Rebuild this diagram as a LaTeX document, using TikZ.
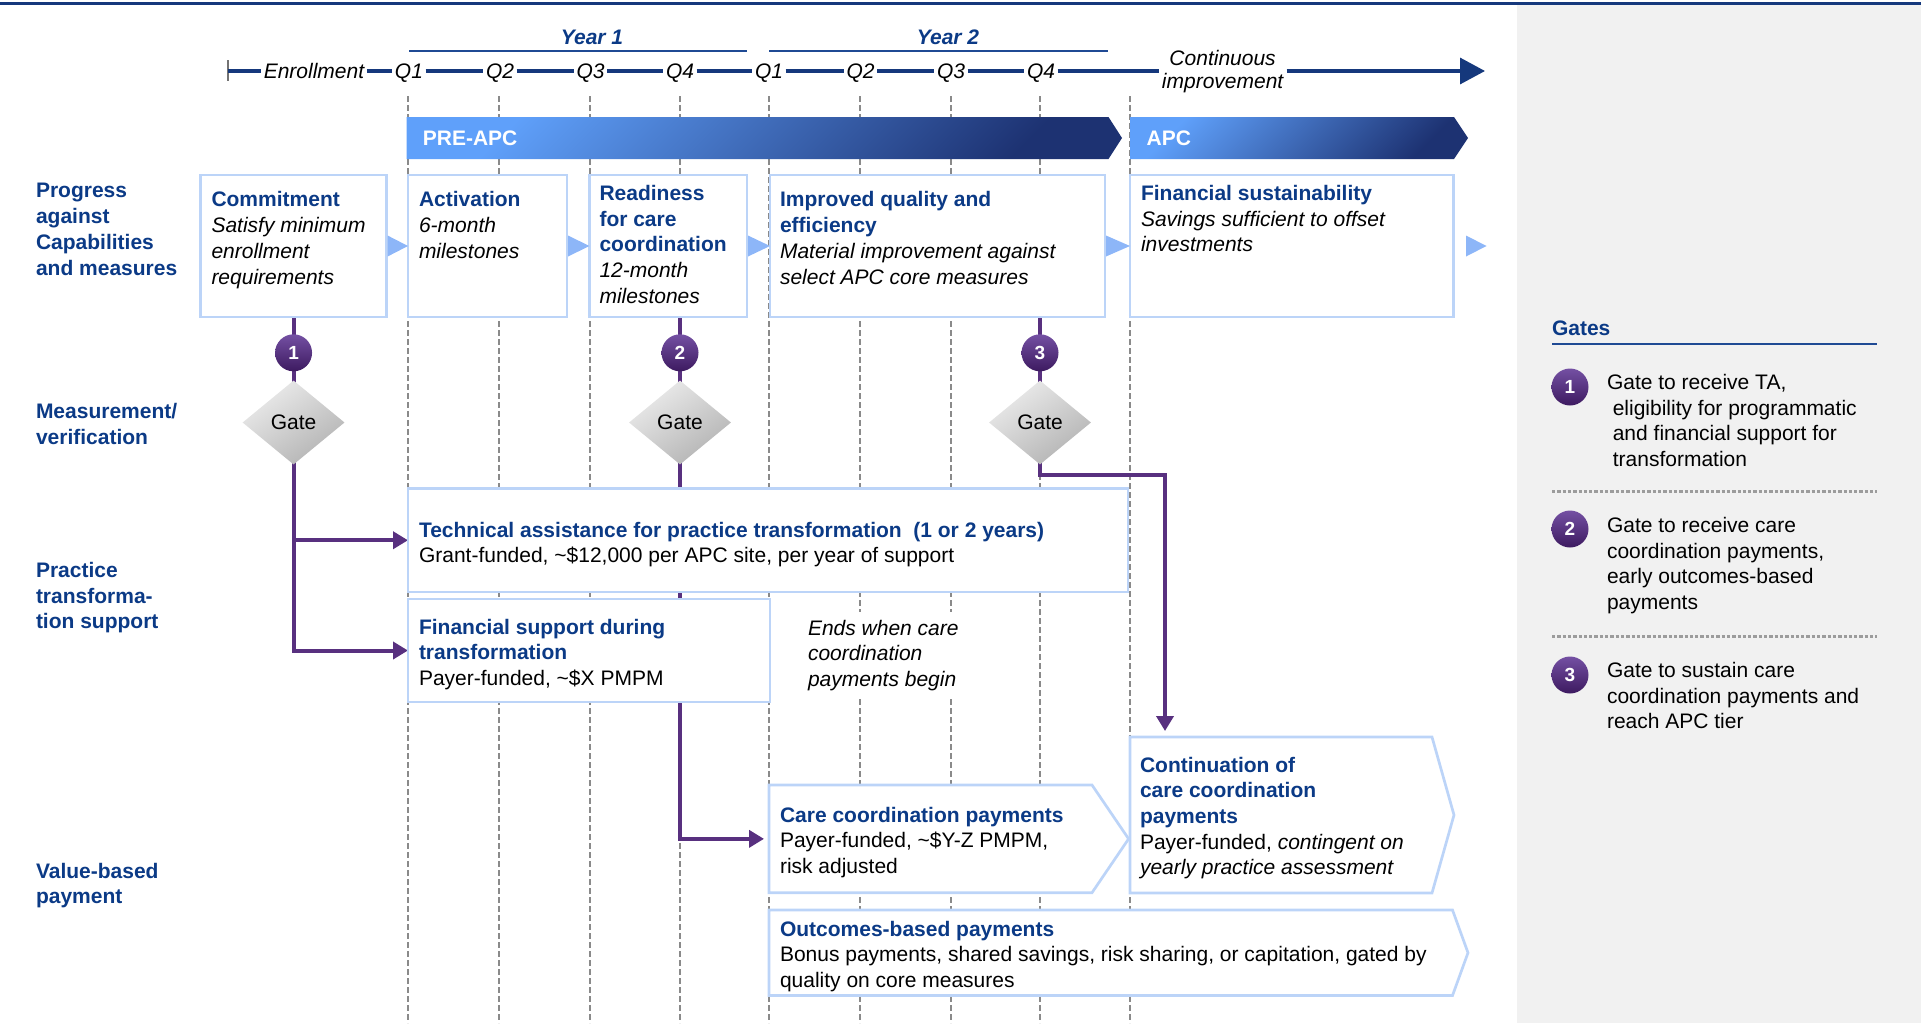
\documentclass[tikz,border=0pt]{standalone}
\usepackage{fontspec}
\setmainfont{Liberation Sans}
\usetikzlibrary{arrows.meta,shapes.geometric,calc}
\definecolor{lblue}{HTML}{0B3A86}
\definecolor{navy}{HTML}{15387C}
\definecolor{yrline}{HTML}{1F4A94}
\definecolor{boxb}{HTML}{BCD4F8}
\definecolor{trib}{HTML}{8DB6F8}
\definecolor{purp}{HTML}{58307F}
\definecolor{dgray}{HTML}{8A8A8A}
\definecolor{panel}{HTML}{F1F1F1}
\definecolor{barL}{HTML}{5FA0FA}
\definecolor{barD}{HTML}{1D3272}
\definecolor{badgeL}{HTML}{7450A3}
\definecolor{badgeD}{HTML}{3D1A60}
\definecolor{dotg}{HTML}{9C9C9C}
\pgfdeclarelayer{back}
\pgfdeclarelayer{mid}
\pgfsetlayers{back,mid,main}
\newcommand\fsz{\fontsize{21}{25.7}\selectfont}
\newcommand\mytb[1]{{\bfseries\color{lblue}#1}}
\newcommand\myti[1]{{\itshape #1}}
\begin{document}
\begin{tikzpicture}[x=1pt,y=-1pt,
  txt/.style={anchor=north west, inner sep=0pt, outer sep=0pt, align=left, font=\fsz},
  lbl/.style={txt, font=\fsz\bfseries, text=lblue},
  tlab/.style={font=\fsz\itshape, inner xsep=2.5pt, inner ysep=0pt, text height=15pt, text depth=0pt},
  yr/.style={font=\fsz\bfseries\itshape, text=lblue, inner sep=0pt},
  yrln/.style={draw=yrline, line width=2.5pt},
  sbox/.style={draw=boxb, line width=2.7pt, fill=white, inner sep=0pt, outer sep=0pt, minimum height=142pt},
  holder/.style={inner sep=0pt, outer sep=0pt},
  boxln/.style={draw=boxb, line width=2.7pt, fill=white},
  badge/.style={circle, minimum size=37pt, inner sep=0pt, top color=badgeL, bottom color=badgeD, text=white, font=\fontsize{19}{22}\selectfont\bfseries},
  gatedia/.style={diamond, minimum width=102pt, minimum height=84pt, inner sep=0pt, top color=gray!15, bottom color=gray!60, shading angle=35, font=\fsz},
  pline/.style={draw=purp, line width=4pt, -{Triangle[length=15pt,width=17pt]}},
  trif/.style={fill=trib},
  dashln/.style={draw=dgray, line width=1.3pt, dash pattern=on 6pt off 3pt},
  tl/.style={draw=navy, line width=3.3pt},
  bartxt/.style={anchor=west, text=white, font=\fsz\bfseries, inner sep=0pt},
  barsh/.style={top color=barL, bottom color=barD, shading angle=45},
  dotln/.style={draw=dotg, line width=3pt, dash pattern=on 3.3pt off 2pt}
]
\useasboundingbox (0,0) rectangle (1921,1023);

\begin{pgfonlayer}{back}
\fill[panel] (1517,5) rectangle (1921,1023);
\foreach \x in {408,499,590,680,769,860,951,1040,1130}
  \draw[dashln] (\x,96) -- (\x,1023);
\end{pgfonlayer}

\draw[line width=2.5pt, navy] (0,3.5) -- (1921,3.5);

% years
\node[yr] (yr1) at (592,37) {Year 1};
\node[yr] (yr2) at (948,37) {Year 2};
\draw[yrln] (409,51) -- (747,51);
\draw[yrln] (769,51) -- (1108,51);

% timeline
\coordinate (tick) at (228,71);
\draw[line width=1.3pt, black!55] (228,60) -- (228,81);
\node[tlab] (enr) at (314,71) {Enrollment};
\node[tlab] (q1) at (409,71) {Q1};
\node[tlab] (q2) at (500,71) {Q2};
\node[tlab] (q3) at (590.5,71) {Q3};
\node[tlab] (q4) at (680,71) {Q4};
\node[tlab] (q5) at (769,71) {Q1};
\node[tlab] (q6) at (860.5,71) {Q2};
\node[tlab] (q7) at (951,71) {Q3};
\node[tlab] (q8) at (1041,71) {Q4};
\node[anchor=north, inner xsep=3pt, inner ysep=0pt, align=center, font=\fontsize{21}{23.4}\selectfont\itshape] (ci) at (1222.6,48.9) {\strut Continuous\\improvement};
\coordinate (tlend) at (1485,71);
\draw[tl] (tick) -- (enr) -- (q1) -- (q2) -- (q3) -- (q4) -- (q5) -- (q6) -- (q7) -- (q8);
\draw[tl] (q8.east) -- (q8.east -| ci.west);
\draw[tl, -{Triangle[length=25pt,width=26pt]}] (q8.east -| ci.east) -- (tlend);

% bars
\node[holder, minimum width=715.3pt, minimum height=42pt] (pre) at (764.35,138) {};
\shade[barsh] (pre.north west) -- ([xshift=-13.5pt]pre.north east) -- (pre.east) -- ([xshift=-13.5pt]pre.south east) -- (pre.south west) -- cycle;
\node[bartxt] (pret) at (422.7,138) {PRE-APC};
\node[holder, minimum width=338pt, minimum height=42pt] (apc) at (1299,138) {};
\shade[barsh] (apc.north west) -- ([xshift=-14pt]apc.north east) -- (apc.east) -- ([xshift=-14pt]apc.south east) -- (apc.south west) -- cycle;
\node[bartxt] (apct) at (1146.5,138) {APC};

% row labels
\node[lbl] (lab1) at (36,180) {\strut Progress\\against\\Capabilities\\and measures};
\node[lbl] (lab2) at (36,400.5) {\strut Measurement/\\verification};
\node[lbl] (lab3) at (36,559.5) {\strut Practice\\transforma-\\tion support};
\node[lbl] (lab4) at (36,860) {\strut Value-based\\payment};

% stage boxes
\node[sbox, minimum width=186.1pt] (b1) at (293.55,246) {};
\node[sbox, minimum width=159pt] (b2) at (487.5,246) {};
\node[sbox, minimum width=157.5pt] (b3) at (668.25,246) {};
\node[sbox, minimum width=335pt] (b4) at (937.5,246) {};
\node[sbox, minimum width=323.5pt] (b5) at (1291.75,246) {};
\coordinate (b5next) at ([xshift=33pt]b5.east);
\fill[trif] ([xshift=1pt,yshift=10.5pt]b1.east) -- ([xshift=1pt,yshift=-10.5pt]b1.east) -- (b2.west) -- cycle;
\fill[trif] ([xshift=1pt,yshift=10.5pt]b2.east) -- ([xshift=1pt,yshift=-10.5pt]b2.east) -- (b3.west) -- cycle;
\fill[trif] ([xshift=1pt,yshift=10.5pt]b3.east) -- ([xshift=1pt,yshift=-10.5pt]b3.east) -- (b4.west) -- cycle;
\fill[trif] ([xshift=1pt,yshift=10.5pt]b4.east) -- ([xshift=1pt,yshift=-10.5pt]b4.east) -- (b5.west) -- cycle;
\fill[trif] ([xshift=12.5pt,yshift=10.5pt]b5.east) -- ([xshift=12.5pt,yshift=-10.5pt]b5.east) -- (b5next) -- cycle;

\node[txt] (b1t) at (211.5,189) {\strut\mytb{Commitment}\\\myti{Satisfy minimum}\\\myti{enrollment}\\\myti{requirements}};
\node[txt] (b2t) at (419,189) {\strut\mytb{Activation}\\\myti{6-month}\\\myti{milestones}};
\node[txt] (b3t) at (599.5,182.5) {\strut\mytb{Readiness}\\\mytb{for care}\\\mytb{coordination}\\\myti{12-month}\\\myti{milestones}};
\node[txt] (b4t) at (780,189) {\strut\mytb{Improved quality and}\\\mytb{efficiency}\\\myti{Material improvement against}\\\myti{select APC core measures}};
\node[txt] (b5t) at (1141,182.5) {\strut\mytb{Financial sustainability}\\\myti{Savings sufficient to offset}\\\myti{investments}};

% practice transformation boxes
\node[sbox, minimum width=720pt, minimum height=103.5pt] (ta) at (768,540.25) {};
\node[sbox, minimum width=362pt, minimum height=103pt] (fs) at (589,650.5) {};
\node[txt] (tat) at (419,519) {\strut\mytb{Technical assistance for practice transformation\ \ (1 or 2 years)}\\Grant-funded, \textasciitilde\$12,000 per APC site, per year of support};
\node[txt] (fst) at (419,616) {\strut\mytb{Financial support during}\\\mytb{transformation}\\Payer-funded, \textasciitilde\$X PMPM};
\node[txt, fill=white, inner sep=5pt] (ends) at (803,612) {\strut\myti{Ends when care}\\\myti{coordination}\\\myti{payments begin}};

% value-based payment chevrons
\node[holder, minimum width=359.6pt, minimum height=107.7pt] (care) at (948.8,838.85) {};
\draw[boxln] (care.north west) -- ([xshift=-36.6pt]care.north east) -- (care.east) -- ([xshift=-36.6pt]care.south east) -- (care.south west) -- cycle;
\node[txt] (caret) at (780,804) {\strut\mytb{Care coordination payments}\\Payer-funded, \textasciitilde\$Y-Z PMPM,\\risk adjusted};
\node[holder, minimum width=324pt, minimum height=156pt] (cont) at (1292,815) {};
\draw[boxln] (cont.north west) -- ([xshift=-22pt]cont.north east) -- (cont.east) -- ([xshift=-22pt]cont.south east) -- (cont.south west) -- cycle;
\node[txt] (contt) at (1140,754) {\strut\mytb{Continuation of}\\\mytb{care coordination}\\\mytb{payments}\\Payer-funded, \myti{contingent on}\\\myti{yearly practice assessment}};
\node[holder, minimum width=699pt, minimum height=85.5pt] (outc) at (1118.5,952.75) {};
\draw[boxln] (outc.north west) -- ([xshift=-15.5pt]outc.north east) -- (outc.east) -- ([xshift=-15.5pt]outc.south east) -- (outc.south west) -- cycle;
\node[txt] (outct) at (780,918) {\strut\mytb{Outcomes-based payments}\\Bonus payments, shared savings, risk sharing, or capitation, gated by\\quality on core measures};

% gates
\node[badge] (g1) at (293.55,352.8) {1};
\node[badge] (g2) at (680,352.8) {2};
\node[badge] (g3) at (1040,352.8) {3};
\node[gatedia] (d1) at (293.55,422.5) {Gate};
\node[gatedia] (d2) at (680,422.5) {Gate};
\node[gatedia] (d3) at (1040,422.5) {Gate};
\coordinate (k3) at (1165,475);

% right panel
\node[lbl] (gt) at (1552,317.5) {\strut Gates};
\draw[line width=2.5pt, yrline] (1552,344) -- (1877,344);
\node[badge] (r1) at (1570,387) {1};
\node[badge] (r2) at (1570,529) {2};
\node[badge] (r3) at (1570,675) {3};
\node[txt] (r1t) at (1607,371.5) {\strut Gate to receive TA,\\\hspace*{5.8pt}eligibility for programmatic\\\hspace*{5.8pt}and financial support for\\\hspace*{5.8pt}transformation};
\node[txt] (r2t) at (1607,514.5) {\strut Gate to receive care\\coordination payments,\\early outcomes-based\\payments};
\node[txt] (r3t) at (1607,659.5) {\strut Gate to sustain care\\coordination payments and\\reach APC tier};
\draw[dotln] (1552,491) -- (1877,491);
\draw[dotln] (1552,636) -- (1877,636);

% purple connectors
\begin{pgfonlayer}{mid}
\draw[pline] (b1.south) -- (b1.south |- fs.west) -- (fs.west);
\draw[pline] (b1.south |- ta.west) -- (ta.west);
\draw[pline, shorten >=5pt] (g2 |- b3.south) -- (g2 |- care.west) -- (care.west);
\draw[pline, shorten >=6pt] (g3 |- b4.south) -- (g3 |- k3) -- (k3) -- (k3 |- cont.north);
\end{pgfonlayer}
\end{tikzpicture}
\end{document}
